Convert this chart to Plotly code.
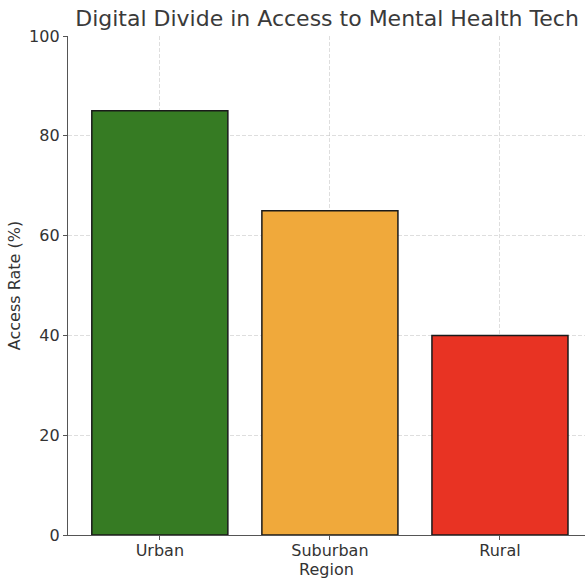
import plotly.graph_objects as go

regions = ["Urban", "Suburban", "Rural"]
access_rate = [85, 65, 40]
bar_colors = ["#367B23", "#F0A93B", "#E83323"]
y_ticks = [0, 20, 40, 60, 80, 100]

font = "DejaVu Sans, Verdana, sans-serif"

fig = go.Figure(
    go.Bar(
        x=list(range(len(regions))),
        y=access_rate,
        width=0.8,
        marker=dict(color=bar_colors, line=dict(color="#1a1a1a", width=1.5)),
        hoverinfo="skip",
    )
)

grid = dict(showgrid=True, gridcolor="rgba(190,190,190,0.5)", griddash="4px,2px", gridwidth=1)
axis_line = dict(showline=True, linecolor="#555555", linewidth=1.4,
                 ticks="outside", ticklen=4, tickcolor="#555555", tickwidth=1.2)

fig.update_layout(
    width=585,
    height=580,
    margin=dict(l=68, r=0, t=36, b=45),
    paper_bgcolor="white",
    plot_bgcolor="white",
    showlegend=False,
    font=dict(family=font, size=16, color="#333333"),
    title=dict(
        text="Digital Divide in Access to Mental Health Tech",
        x=0.559, xanchor="center", y=0.955, yanchor="bottom",
        font=dict(family=font, size=22, color="#3a3a3a"),
    ),
    xaxis=dict(
        range=[-0.54, 2.5],
        tickmode="array",
        tickvals=list(range(len(regions))),
        ticktext=regions,
        tickfont=dict(size=16),
        ticklabelstandoff=-3,
        zeroline=False,
        layer="above traces",
        title=dict(text="Region", standoff=0, font=dict(size=16)),
        **axis_line,
        **grid,
    ),
    yaxis=dict(
        range=[0, 100],
        tickmode="array",
        tickvals=y_ticks,
        tickfont=dict(size=16),
        ticklabelstandoff=0,
        zeroline=False,
        layer="above traces",
        title=dict(text="Access Rate (%)", standoff=4, font=dict(size=16)),
        **axis_line,
        **grid,
    ),
)

fig.write_html("out.html")
